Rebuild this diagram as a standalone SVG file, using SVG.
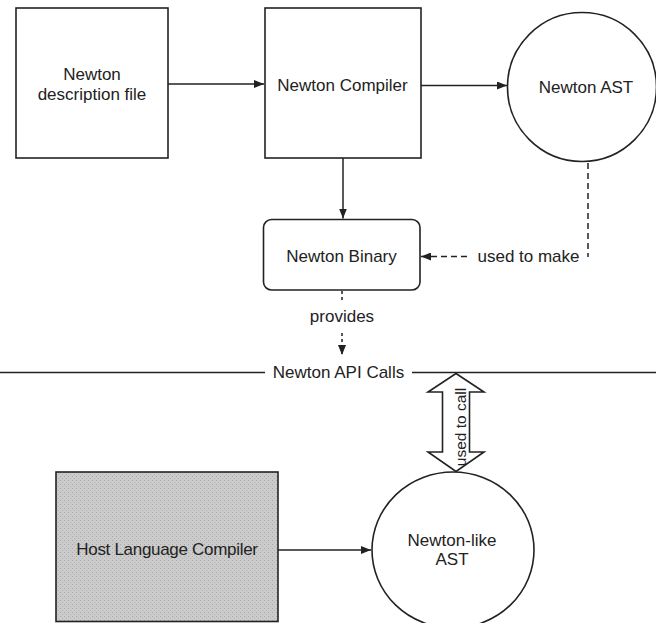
<svg xmlns="http://www.w3.org/2000/svg" width="656" height="623" viewBox="0 0 656 623">
<style>
text{font-family:"Liberation Sans",Arial,sans-serif;font-size:17px;fill:#222;text-anchor:middle}
.box{fill:#fff;stroke:#222;stroke-width:1.6}
.ln{fill:none;stroke:#222;stroke-width:1.5}
.dash{stroke-dasharray:6 4}
.dot{stroke-dasharray:3 3}
</style>
<defs>
<marker id="ah" markerWidth="10" markerHeight="8" refX="10" refY="4" orient="auto" markerUnits="userSpaceOnUse">
<path d="M0,0 L10,4 L0,8 Z" fill="#222"/>
</marker>
<pattern id="stip" width="4" height="4" patternUnits="userSpaceOnUse">
<rect width="4" height="4" fill="#cbcbcb"/>
<rect x="0" y="0" width="1" height="1" fill="#a9a9a9"/>
<rect x="2" y="2" width="1" height="1" fill="#b3b3b3"/>
</pattern>
</defs>
<rect width="656" height="623" fill="#fff"/>

<g id="connectors">
<line class="ln" x1="168" y1="84" x2="264" y2="84" marker-end="url(#ah)"/>
<line class="ln" x1="421" y1="85.5" x2="507" y2="85.5" marker-end="url(#ah)"/>
<line class="ln" x1="343" y1="158" x2="343" y2="218.5" marker-end="url(#ah)"/>
<line class="ln dash" x1="588" y1="163" x2="588" y2="257"/>
<line class="ln dash" x1="467" y1="256.5" x2="421" y2="256.5" marker-end="url(#ah)"/>
<text x="528.5" y="262">used to make</text>
<line class="ln dot" x1="342" y1="291" x2="342" y2="303"/>
<line class="ln dot" x1="342" y1="333" x2="342" y2="355" marker-end="url(#ah)"/>
<text x="342" y="322">provides</text>
<line class="ln" x1="0" y1="372.5" x2="265" y2="372.5"/>
<line class="ln" x1="412" y1="372.5" x2="656" y2="372.5"/>
<text x="338.5" y="378">Newton API Calls</text>
<path class="box" d="M456,373.5 L484,392 L469.5,392 L469.5,452 L484,452 L456,471.5 L428,452 L442.5,452 L442.5,392 L428,392 Z"/>
<text transform="translate(466,427) rotate(-90)" style="font-size:15.5px">used to call</text>
<line class="ln" x1="278" y1="550" x2="371" y2="550" marker-end="url(#ah)"/>
</g>

<g id="desc">
<rect class="box" x="16" y="8" width="152" height="150"/>
<text x="92" y="80">Newton</text>
<text x="92" y="99.5">description file</text>
</g>

<g id="compiler">
<rect class="box" x="265" y="8" width="156" height="150"/>
<text x="342.5" y="90.5">Newton Compiler</text>
</g>

<g id="ast">
<circle class="box" cx="582" cy="87" r="74.5"/>
<text x="586" y="92.5">Newton AST</text>
</g>

<g id="binary">
<rect class="box" x="263.5" y="219.5" width="156.5" height="70.5" rx="8"/>
<text x="341.5" y="262">Newton Binary</text>
</g>

<g id="host">
<rect x="56" y="472" width="222" height="149.5" fill="url(#stip)" stroke="#222" stroke-width="1.6"/>
<text x="167" y="555" style="letter-spacing:-0.3px">Host Language Compiler</text>
</g>

<g id="likeast">
<ellipse class="box" cx="453" cy="550" rx="81" ry="78"/>
<text x="452" y="546">Newton-like</text>
<text x="452" y="564.5">AST</text>
</g>
</svg>
